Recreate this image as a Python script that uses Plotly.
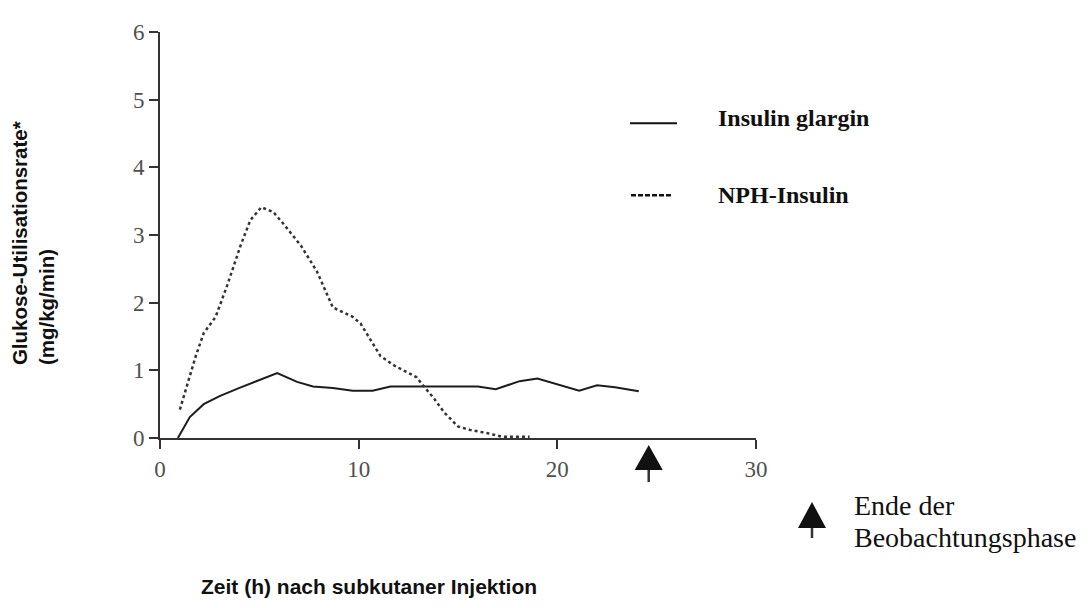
import plotly.graph_objects as go

# ---- data ----
glargin_t = [0.9, 1.5, 2.2, 3.0, 4.0, 5.0, 5.9, 6.9, 7.7, 8.7, 9.7, 10.7, 11.6,
             13.0, 14.5, 16.0, 16.9, 18.1, 19.0, 20.1, 21.1, 22.0, 22.9, 24.1]
glargin_v = [0.0, 0.31, 0.50, 0.62, 0.74, 0.86, 0.96, 0.83, 0.76, 0.74, 0.70, 0.70, 0.76,
             0.76, 0.76, 0.76, 0.72, 0.84, 0.88, 0.78, 0.70, 0.78, 0.75, 0.69]

nph_t = [1.0, 1.8, 2.2, 2.8, 3.4, 4.05, 4.55, 5.1, 5.7, 6.2, 7.1, 7.9, 8.7, 9.7, 10.1,
         11.1, 11.8, 12.9, 13.8, 14.3, 15.0, 15.6, 16.5, 17.2, 18.6]
nph_v = [0.42, 1.21, 1.55, 1.79, 2.27, 2.84, 3.22, 3.41, 3.34, 3.17, 2.84, 2.46, 1.93, 1.79, 1.69,
         1.21, 1.07, 0.90, 0.58, 0.38, 0.17, 0.12, 0.07, 0.02, 0.02]

end_of_observation_h = 24.6

x_ticks = [0, 10, 20, 30]
y_ticks = [0, 1, 2, 3, 4, 5, 6]

legend_labels = ["Insulin glargin", "NPH-Insulin"]
x_title = "Zeit (h) nach subkutaner Injektion"
y_title_lines = ["Glukose-Utilisationsrate*", "(mg/kg/min)"]
end_label_lines = ["Ende der", "Beobachtungsphase"]

# ---- layout geometry (pixels) ----
# the page body has an 8px default margin; size the figure to fill the rest of the window
OFF = 8
W, H = 1090 - OFF, 608 - OFF
L, R, T, B = 152, 334, 12, 170
PW, PH = W - L - R, H - T - B


def px(xs):
    """screen x pixel -> paper coordinate"""
    return (xs - OFF - L) / PW


def py(ys):
    """screen y pixel -> paper coordinate"""
    return (H - B - (ys - OFF)) / PH


SERIF = "Liberation Serif, Times New Roman, serif"
SANS = "Liberation Sans, Arial, sans-serif"
INK = "#1c1c1c"

fig = go.Figure()
fig.add_trace(go.Scatter(x=glargin_t, y=glargin_v, mode="lines", name=legend_labels[0],
                         line=dict(color=INK, width=2), showlegend=False))
fig.add_trace(go.Scatter(x=nph_t, y=nph_v, mode="lines", name=legend_labels[1],
                         line=dict(color="#333", width=2.5, dash="3px,3px"), showlegend=False))

axis_common = dict(showgrid=False, zeroline=False, showline=True, linecolor="#333", linewidth=2,
                   ticks="outside", ticklen=9, tickwidth=2, tickcolor="#333",
                   tickfont=dict(family=SERIF, size=23, color="#505050"))
fig.update_xaxes(range=[0, 30], tickvals=x_ticks, **axis_common)
fig.update_yaxes(range=[0, 6], tickvals=y_ticks, **axis_common)

shapes = []
# end-of-observation arrow on the axis
shapes.append(dict(type="path", xref="x", yref="paper", xsizemode="pixel", ysizemode="pixel",
                   xanchor=end_of_observation_h, yanchor=0,
                   path="M0,-7 L14,-32 L-14,-32 Z", fillcolor="#111", line=dict(width=0)))
shapes.append(dict(type="line", xref="x", yref="paper", xsizemode="pixel", ysizemode="pixel",
                   xanchor=end_of_observation_h, yanchor=0, x0=0, x1=0, y0=-32, y1=-44,
                   line=dict(color="#333", width=2.5)))
# legend triangle
shapes.append(dict(type="path", xref="paper", yref="paper", xsizemode="pixel", ysizemode="pixel",
                   xanchor=px(812), yanchor=0,
                   path="M0,-64 L14,-90 L-14,-90 Z", fillcolor="#111", line=dict(width=0)))
shapes.append(dict(type="line", xref="paper", yref="paper", xsizemode="pixel", ysizemode="pixel",
                   xanchor=px(812), yanchor=0, x0=0, x1=0, y0=-90, y1=-100,
                   line=dict(color="#333", width=2.5)))
# legend line samples
shapes.append(dict(type="line", xref="paper", yref="paper", x0=px(630), x1=px(677),
                   y0=py(114), y1=py(114), line=dict(color="#111", width=2)))
shapes.append(dict(type="line", xref="paper", yref="paper", x0=px(631), x1=px(672),
                   y0=py(188), y1=py(188), line=dict(color="#111", width=2.5, dash="5px,2px")))

annotations = [
    dict(text="<b>%s</b>" % legend_labels[0], xref="paper", yref="paper", x=px(716), y=py(109),
         xanchor="left", yanchor="middle", showarrow=False,
         font=dict(family=SERIF, size=24, color="#111")),
    dict(text="<b>%s</b>" % legend_labels[1], xref="paper", yref="paper", x=px(716), y=py(188),
         xanchor="left", yanchor="middle", showarrow=False,
         font=dict(family=SERIF, size=24, color="#111")),
    dict(text=end_label_lines[0], xref="paper", yref="paper", x=px(852), y=py(507),
         xanchor="left", yanchor="middle", showarrow=False,
         font=dict(family=SERIF, size=28, color="#111")),
    dict(text=end_label_lines[1], xref="paper", yref="paper", x=px(852), y=py(540),
         xanchor="left", yanchor="middle", showarrow=False,
         font=dict(family=SERIF, size=28, color="#111")),
    dict(text="<b>%s</b>" % x_title, xref="paper", yref="paper", x=px(369), y=py(591),
         xanchor="center", yanchor="middle", showarrow=False,
         font=dict(family=SANS, size=21, color="#111")),
    dict(text="<b>%s</b><br><b>%s</b>" % tuple(y_title_lines), xref="paper", yref="paper",
         x=px(33), y=py(365), xanchor="center", yanchor="bottom", textangle=-90, align="left",
         showarrow=False, font=dict(family=SANS, size=20.5, color="#111")),
]

fig.update_layout(width=W, height=H, margin=dict(l=L, r=R, t=T, b=B),
                  paper_bgcolor="white", plot_bgcolor="white",
                  shapes=shapes, annotations=annotations, showlegend=False)

fig.write_html("out.html")
